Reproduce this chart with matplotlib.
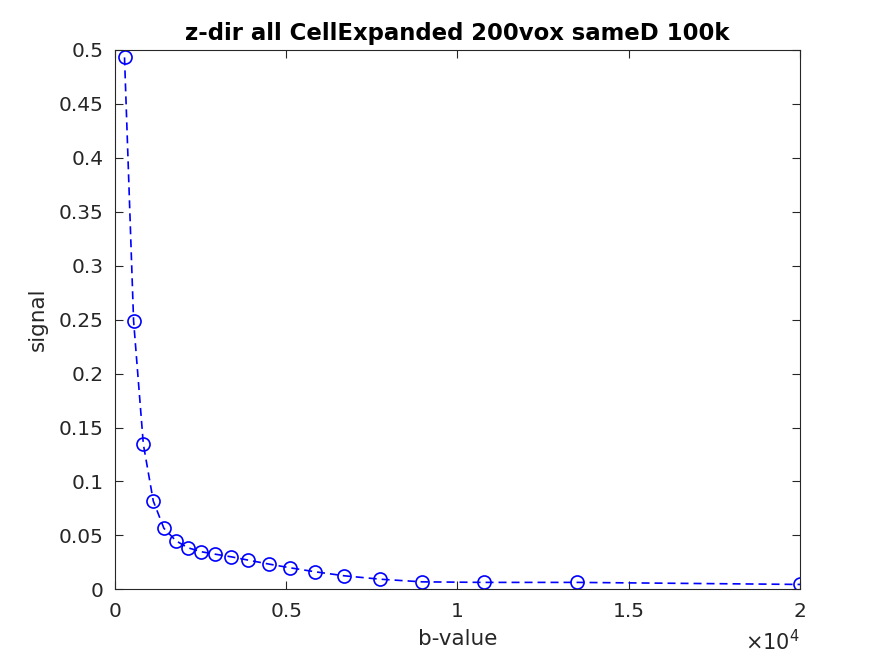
import numpy as np
import matplotlib.pyplot as plt

b_value = [280, 545, 830, 1120, 1430, 1780, 2130, 2520, 2915, 3395, 3880,
           4490, 5120, 5850, 6700, 7725, 8960, 10760, 13480, 20000]
signal = [0.4929, 0.2488, 0.1344, 0.0819, 0.0566, 0.0451, 0.0386, 0.0349,
          0.0327, 0.0302, 0.0272, 0.0235, 0.0200, 0.0163, 0.0126, 0.0095,
          0.0070, 0.0065, 0.0065, 0.0046]

xticks = [0, 5000, 10000, 15000, 20000]
xtick_labels = ['0', '0.5', '1', '1.5', '2']
yticks = [0, 0.05, 0.1, 0.15, 0.2, 0.25, 0.3, 0.35, 0.4, 0.45, 0.5]
ytick_labels = ['0', '0.05', '0.1', '0.15', '0.2', '0.25', '0.3', '0.35',
                '0.4', '0.45', '0.5']

gray = (0.15, 0.15, 0.15)

fig = plt.figure(figsize=(8.84, 6.63), dpi=100)
ax = fig.add_axes([0.13, 0.111, 0.775, 0.814])

ax.plot(b_value, signal, linestyle='--', dashes=(4.8, 3), color='blue',
        marker='o', markerfacecolor='none', markersize=9.4,
        markeredgewidth=1.2, linewidth=1.2)

ax.set_xlim(0, 20000)
ax.set_ylim(0, 0.5)
ax.set_xticks(xticks)
ax.set_xticklabels(xtick_labels)
ax.set_yticks(yticks)
ax.set_yticklabels(ytick_labels)

ax.tick_params(direction='in', length=6, width=0.8, top=True, right=True,
               labelsize=14.5, colors=gray)
ax.tick_params(axis='x', pad=9)
ax.tick_params(axis='y', pad=8)
for s in ax.spines.values():
    s.set_color(gray)
    s.set_linewidth(0.8)

ax.set_xlabel('b-value', fontsize=15.5, color=gray, labelpad=6)
ax.set_ylabel('signal', fontsize=15.5, color=gray, labelpad=8)
ax.set_title('z-dir all CellExpanded 200vox sameD 100k', fontsize=16.4,
             fontweight='bold', pad=7)
ax.text(1.0, -0.074, r'$\times10^4$', transform=ax.transAxes, ha='right',
        va='top', fontsize=15, color=gray)

plt.savefig('out.png', dpi=100)
